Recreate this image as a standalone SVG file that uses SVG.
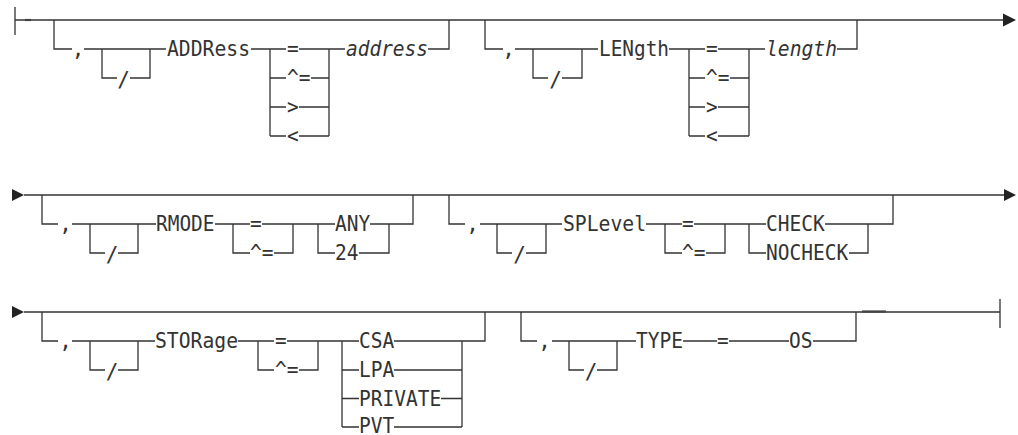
<svg xmlns="http://www.w3.org/2000/svg" width="1018" height="435" viewBox="0 0 1018 435">
<style>
.t{font-family:"DejaVu Sans Mono","Liberation Mono",monospace;font-size:21px;fill:#333}
.i{font-style:italic}
.c path{fill:none;stroke:#333;stroke-width:1.3}
.c .thick{stroke-width:2.2;stroke:#444}
.a{fill:#222}
</style>
<rect width="1018" height="435" fill="#fff"/>
<g id="connectors" class="c">
<!-- row 1 -->
<path d="M15 7V35M15 20H1003"/>
<path class="thick" d="M25 20H31"/>
<path d="M54 20V49H72M84 49H166M102 49V78H117M130 78H150V49"/>
<path d="M251 49H286M270 49V136M270 78H286M270 107H286M270 136H286M299 49H345M311 78H329M299 107H329M299 136H329M329 49V136M428 49H449V20"/>
<path d="M485 20V49H503M515 49H598M533 49V78H548M562 78H582V49"/>
<path d="M669 49H705M689 49V136M689 78H705M689 107H705M689 136H705M718 49H765M730 78H749M718 107H749M718 136H749M749 49V136M837 49H857V20"/>
<!-- row 2 -->
<path d="M24 195H1004"/>
<path d="M42 195V224H58M72 224H156M90 224V253H105M118 253H138V224"/>
<path d="M215 224H250M233 224V253H250M262 224H335M274 253H293V224M318 224V253H335M370 224H413V195M359 253H389V224"/>
<path d="M449 195V224H465M480 224H562M497 224V253H512M526 253H546V224"/>
<path d="M646 224H682M665 224V253H682M694 224H766M706 253H725V224M749 224V253H766M825 224H893V195M849 253H868V224"/>
<!-- row 3 -->
<path d="M24 312H1000M1000 299V328"/>
<path class="thick" d="M862 311.5H886"/>
<path d="M42 312V341H58M72 341H155M90 341V370H105M118 370H138V341"/>
<path d="M238 341H274M258 341V370H274M287 341H359M299 370H318V341M342 341V427M342 370H359M342 398.5H359M342 427H359M394 341H485V312M394 370H462M441 398.5H462M394 427H462M462 341V427"/>
<path d="M521 312V341H537M552 341H636M569 341V370H584M597 370H617V341M683 341H717M729 341H789M813 341H856V312"/>
<polygon class="a" points="1003,13.5 1016,20 1003,26.5"/>
<polygon class="a" points="12,189 24,195 12,201"/>
<polygon class="a" points="1004,189 1016,195 1004,201"/>
<polygon class="a" points="12,306 24,312 12,318"/>
</g>
<g id="address" class="t">
<text x="78" y="56" text-anchor="middle">,</text>
<text x="123.5" y="87" text-anchor="middle">/</text>
<text x="167" y="56" textLength="83" lengthAdjust="spacingAndGlyphs">ADDRess</text>
<text x="287" y="56" textLength="11.7" lengthAdjust="spacingAndGlyphs">=</text>
<text x="287" y="85" textLength="23.5" lengthAdjust="spacingAndGlyphs">^=</text>
<text x="287" y="114" textLength="11.7" lengthAdjust="spacingAndGlyphs">&gt;</text>
<text x="287" y="143" textLength="11.7" lengthAdjust="spacingAndGlyphs">&lt;</text>
<text class="i" x="346" y="56" textLength="82" lengthAdjust="spacingAndGlyphs">address</text>
</g>
<g id="length" class="t">
<text x="508.5" y="56" text-anchor="middle">,</text>
<text x="555.5" y="87" text-anchor="middle">/</text>
<text x="599" y="56" textLength="70" lengthAdjust="spacingAndGlyphs">LENgth</text>
<text x="706" y="56" textLength="11.7" lengthAdjust="spacingAndGlyphs">=</text>
<text x="706" y="85" textLength="23.5" lengthAdjust="spacingAndGlyphs">^=</text>
<text x="706" y="114" textLength="11.7" lengthAdjust="spacingAndGlyphs">&gt;</text>
<text x="706" y="143" textLength="11.7" lengthAdjust="spacingAndGlyphs">&lt;</text>
<text class="i" x="766" y="56" textLength="71" lengthAdjust="spacingAndGlyphs">length</text>
</g>
<g id="rmode" class="t">
<text x="65.5" y="231" text-anchor="middle">,</text>
<text x="112" y="262" text-anchor="middle">/</text>
<text x="156" y="231" textLength="58.5" lengthAdjust="spacingAndGlyphs">RMODE</text>
<text x="250" y="231" textLength="11.7" lengthAdjust="spacingAndGlyphs">=</text>
<text x="250" y="260" textLength="23.5" lengthAdjust="spacingAndGlyphs">^=</text>
<text x="335" y="231" textLength="35.2" lengthAdjust="spacingAndGlyphs">ANY</text>
<text x="335" y="260" textLength="23.5" lengthAdjust="spacingAndGlyphs">24</text>
</g>
<g id="splevel" class="t">
<text x="472.5" y="231" text-anchor="middle">,</text>
<text x="519.5" y="262" text-anchor="middle">/</text>
<text x="563" y="231" textLength="83" lengthAdjust="spacingAndGlyphs">SPLevel</text>
<text x="682" y="231" textLength="11.7" lengthAdjust="spacingAndGlyphs">=</text>
<text x="682" y="260" textLength="23.5" lengthAdjust="spacingAndGlyphs">^=</text>
<text x="766" y="231" textLength="58.7" lengthAdjust="spacingAndGlyphs">CHECK</text>
<text x="766" y="260" textLength="82.2" lengthAdjust="spacingAndGlyphs">NOCHECK</text>
</g>
<g id="storage" class="t">
<text x="65.5" y="348" text-anchor="middle">,</text>
<text x="112" y="379" text-anchor="middle">/</text>
<text x="155" y="348" textLength="83" lengthAdjust="spacingAndGlyphs">STORage</text>
<text x="275" y="348" textLength="11.7" lengthAdjust="spacingAndGlyphs">=</text>
<text x="275" y="377" textLength="23.5" lengthAdjust="spacingAndGlyphs">^=</text>
<text x="359" y="348" textLength="35.2" lengthAdjust="spacingAndGlyphs">CSA</text>
<text x="359" y="377" textLength="35.2" lengthAdjust="spacingAndGlyphs">LPA</text>
<text x="359" y="405.5" textLength="82.2" lengthAdjust="spacingAndGlyphs">PRIVATE</text>
<text x="359" y="433" textLength="35.2" lengthAdjust="spacingAndGlyphs">PVT</text>
</g>
<g id="type" class="t">
<text x="544.5" y="348" text-anchor="middle">,</text>
<text x="591" y="379" text-anchor="middle">/</text>
<text x="636" y="348" textLength="47" lengthAdjust="spacingAndGlyphs">TYPE</text>
<text x="717" y="348" textLength="11.7" lengthAdjust="spacingAndGlyphs">=</text>
<text x="789" y="348" textLength="23.5" lengthAdjust="spacingAndGlyphs">OS</text>
</g>
</svg>
